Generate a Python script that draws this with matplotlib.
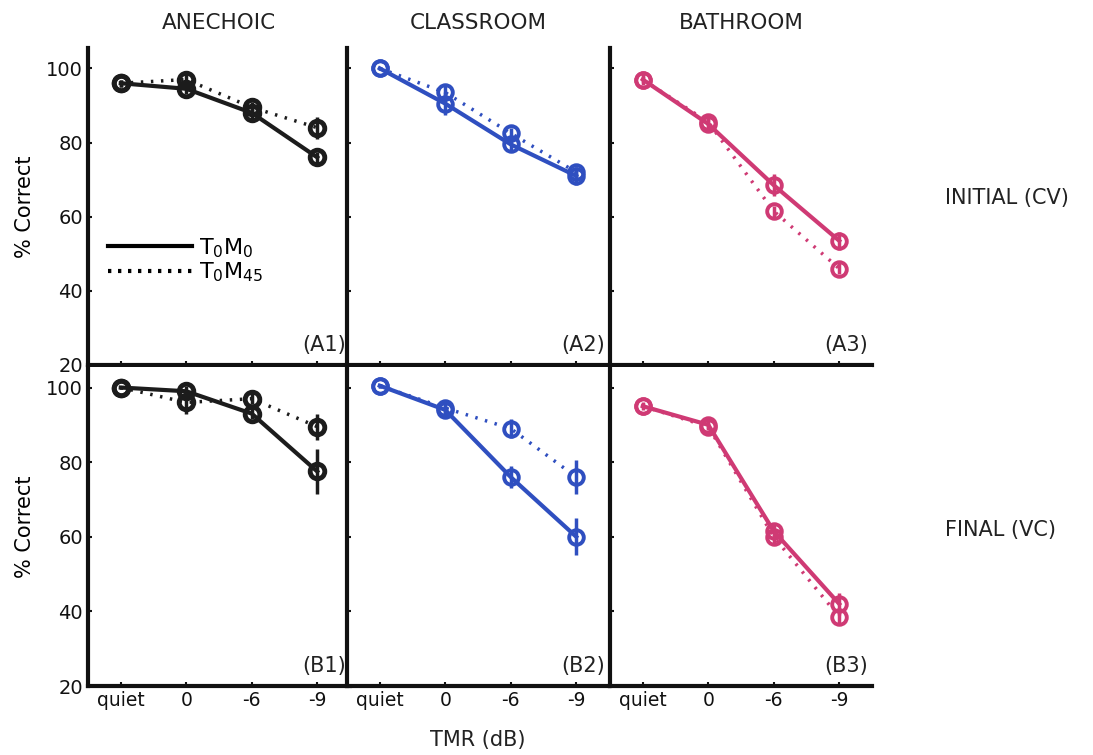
import numpy as np
import matplotlib
matplotlib.use('Agg')
import matplotlib.pyplot as plt
from matplotlib.lines import Line2D

# conditions / labels
conds = ['quiet', '0', '-6', '-9']
rooms = ['ANECHOIC', 'CLASSROOM', 'BATHROOM']
row_names = ['INITIAL (CV)', 'FINAL (VC)']
panel_tags = [['(A1)', '(A2)', '(A3)'], ['(B1)', '(B2)', '(B3)']]
room_colors = ['#1c1c1c', '#2f4fc0', '#cf3a74']

# % correct, T0M0 (solid) and T0M45 (dotted), with error bars
a1_m0 = [96, 94.5, 88, 76]
a1_m0_err = [1, 1.5, 2, 1.5]
a1_m45 = [96, 97, 89.5, 84]
a1_m45_err = [1, 1.5, 1.5, 3]
a2_m0 = [100, 90.5, 79.5, 71]
a2_m0_err = [0.5, 3, 1.5, 2.5]
a2_m45 = [100, 93.5, 82.5, 72]
a2_m45_err = [0.5, 2, 1.5, 1.5]
a3_m0 = [97, 85, 68.5, 53.5]
a3_m0_err = [1.5, 1.5, 3, 2.5]
a3_m45 = [97, 85.5, 61.5, 46]
a3_m45_err = [1, 1, 1.5, 1.5]

b1_m0 = [100, 99, 93, 77.5]
b1_m0_err = [0.5, 1.5, 1.5, 6]
b1_m45 = [100, 96, 97, 89.5]
b1_m45_err = [0.5, 3, 1.5, 3.5]
b2_m0 = [100.5, 94, 76, 60]
b2_m0_err = [0.5, 1.5, 3, 5]
b2_m45 = [100.5, 94.5, 89, 76]
b2_m45_err = [0.5, 1.5, 2.5, 4.5]
b3_m0 = [95, 90, 61.5, 42]
b3_m0_err = [1, 1, 2, 3]
b3_m45 = [95, 89.5, 60, 38.5]
b3_m45_err = [0.5, 1, 2, 1.5]

panels = [
    [(a1_m0, a1_m0_err, a1_m45, a1_m45_err),
     (a2_m0, a2_m0_err, a2_m45, a2_m45_err),
     (a3_m0, a3_m0_err, a3_m45, a3_m45_err)],
    [(b1_m0, b1_m0_err, b1_m45, b1_m45_err),
     (b2_m0, b2_m0_err, b2_m45, b2_m45_err),
     (b3_m0, b3_m0_err, b3_m45, b3_m45_err)],
]

plt.rcParams['font.family'] = ['DejaVu Sans']
W, H = 1093, 755
fig = plt.figure(figsize=(W / 100, H / 100), dpi=100)

lefts = [88, 347, 610]
pw = 262
tops = [48, 367]
bottoms = [365, 686]
x = np.arange(len(conds))
dots = (0, (0.7, 2.2))

for r in range(2):
    for c in range(3):
        ax = fig.add_axes([lefts[c] / W, 1 - bottoms[r] / H, pw / W, (bottoms[r] - tops[r]) / H])
        col = room_colors[c]
        m0, m0e, m45, m45e = panels[r][c]
        mew = 3.5 if c == 0 else 2.8
        ax.errorbar(x, m45, yerr=m45e, color=col, ls=dots, lw=2.5, marker='o', ms=10.5,
                    mfc='none', mew=mew, elinewidth=2.5, capsize=0)
        ax.errorbar(x, m0, yerr=m0e, color=col, ls='-', lw=3, marker='o', ms=10.5,
                    mfc='none', mew=mew, elinewidth=2.5, capsize=0)
        ax.set_xlim(-0.5, 3.5)
        ax.set_ylim(20, 105.5)
        ax.set_yticks([20, 40, 60, 80, 100])
        ax.set_xticks(x)
        for s in ['top', 'right']:
            ax.spines[s].set_visible(False)
        for s in ['left', 'bottom']:
            ax.spines[s].set_linewidth(3)
            ax.spines[s].set_color('#111111')
        ax.tick_params(direction='in', length=3, width=1.5, labelsize=14, colors='#111111')
        if r == 1:
            ax.set_xticklabels(conds, fontsize=13.5)
        else:
            ax.set_xticklabels([])
        if c != 0:
            ax.set_yticklabels([])
        else:
            ax.set_ylabel('% Correct', fontsize=15, labelpad=8)
        ax.text(0.985, 0.03, panel_tags[r][c], transform=ax.transAxes, ha='right', va='bottom',
                fontsize=15, color='#222222')
        if r == 0:
            ax.set_title(rooms[c], fontsize=15.5, pad=14, color='#222222')
        if r == 0 and c == 0:
            hs = [Line2D([], [], color='k', lw=3, ls='-'), Line2D([], [], color='k', lw=3, ls=(0, (0.8, 1.6)))]
            ax.legend(hs, [r'T$_0$M$_0$', r'T$_0$M$_{45}$'], loc='upper left', bbox_to_anchor=(0.0, 0.47),
                      frameon=False, fontsize=16, handlelength=3.8, handletextpad=0.3, labelspacing=0.05)

fig.text(945 / W, 1 - 198 / H, row_names[0], fontsize=15, ha='left', va='center', color='#222222')
fig.text(945 / W, 1 - 530 / H, row_names[1], fontsize=15, ha='left', va='center', color='#222222')
fig.text(478 / W, 1 - 740 / H, 'TMR (dB)', fontsize=15, ha='center', va='center', color='#222222')

fig.savefig('out.png', dpi=100)
